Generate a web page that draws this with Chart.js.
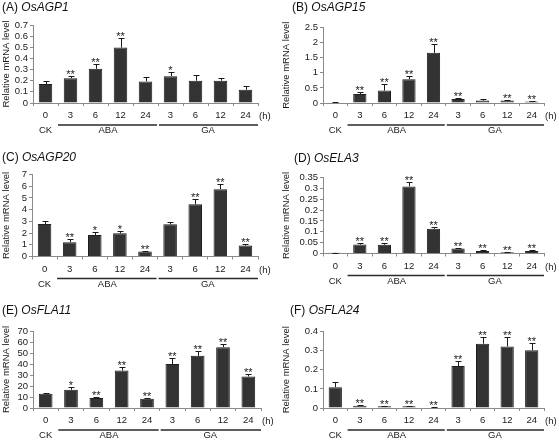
<!DOCTYPE html>
<html>
<head>
<meta charset="utf-8">
<script src="https://cdn.jsdelivr.net/npm/chart.js@4.4.1/dist/chart.umd.min.js"></script>
<style>
  body { margin: 0; background: #fff; width: 559px; height: 440px; position: relative; overflow: hidden;
         font-family: "Liberation Sans", Arial, sans-serif; }
  canvas { position: absolute; }
  .ttl { position: absolute; font-size: 12px; line-height: 14px; color: #111; white-space: nowrap; }
</style>
</head>
<body>
<canvas id="cA" width="280" height="145" style="left:0;top:0"></canvas>
<canvas id="cB" width="279" height="145" style="left:280px;top:0"></canvas>
<canvas id="cC" width="280" height="145" style="left:0;top:145px"></canvas>
<canvas id="cD" width="279" height="145" style="left:280px;top:145px"></canvas>
<canvas id="cE" width="280" height="150" style="left:0;top:290px"></canvas>
<canvas id="cF" width="279" height="150" style="left:280px;top:290px"></canvas>

<div class="ttl" style="left:2px;top:0px">(A) <i>OsAGP1</i></div>
<div class="ttl" style="left:292px;top:0px">(B) <i>OsAGP15</i></div>
<div class="ttl" style="left:2px;top:150px">(C) <i>OsAGP20</i></div>
<div class="ttl" style="left:294px;top:151px">(D) <i>OsELA3</i></div>
<div class="ttl" style="left:2px;top:303px">(E) <i>OsFLA11</i></div>
<div class="ttl" style="left:290px;top:303px">(F) <i>OsFLA24</i></div>

<script>
// x categories: CK, then ABA 3-24 h, then GA 3-24 h
const timeLabels = ['0', '3', '6', '12', '24', '3', '6', '12', '24'];
const groupNames = ['CK', 'ABA', 'GA'];
const yTitle = 'Relative mRNA level';

// (A) OsAGP1
const agp1Mean = [0.17, 0.223, 0.307, 0.497, 0.194, 0.241, 0.2, 0.2, 0.119];
const agp1Err  = [0.028, 0.021, 0.041, 0.083, 0.038, 0.036, 0.053, 0.023, 0.036];
const agp1Sig  = ['', '**', '**', '**', '', '*', '', '', ''];
const agp1Ticks = [0, 0.7, 0.1];

// (B) OsAGP15
const agp15Mean = [0.02, 0.3, 0.41, 0.79, 1.66, 0.13, 0.08, 0.08, 0.05];
const agp15Err  = [0.01, 0.06, 0.22, 0.12, 0.3, 0.05, 0.04, 0.01, 0.015];
const agp15Sig  = ['', '**', '**', '**', '**', '**', '', '**', '**'];
const agp15Ticks = [0, 2.5, 0.5];

// (C) OsAGP20
const agp20Mean = [2.78, 1.22, 1.84, 1.98, 0.42, 2.75, 4.45, 5.75, 0.93];
const agp20Err  = [0.25, 0.25, 0.28, 0.2, 0.06, 0.17, 0.45, 0.43, 0.17];
const agp20Sig  = ['', '**', '*', '*', '**', '', '**', '**', '**'];
const agp20Ticks = [0, 7, 1];

// (D) OsELA3
const ela3Mean = [0.003, 0.041, 0.04, 0.309, 0.114, 0.023, 0.011, 0.006, 0.011];
const ela3Err  = [0.001, 0.006, 0.007, 0.021, 0.006, 0.004, 0.003, 0.002, 0.004];
const ela3Sig  = ['', '**', '**', '**', '**', '**', '**', '**', '**'];
const ela3Ticks = [0, 0.35, 0.05];

// (E) OsFLA11
const fla11Mean = [13, 16.6, 9, 34, 8.5, 39.9, 47.4, 55.3, 28.7];
const fla11Err  = [0.6, 2.4, 0.7, 3, 0.9, 5.7, 4.3, 2.7, 2.4];
const fla11Sig  = ['', '*', '**', '**', '**', '**', '**', '**', '**'];
const fla11Ticks = [0, 70, 10];

// (F) OsFLA24
const fla24Mean = [0.109, 0.012, 0.009, 0.009, 0.003, 0.219, 0.336, 0.322, 0.302];
const fla24Err  = [0.025, 0.004, 0.001, 0.003, 0.001, 0.026, 0.033, 0.047, 0.038];
const fla24Sig  = ['', '**', '**', '**', '**', '**', '**', '**', '**'];
const fla24Ticks = [0, 0.4, 0.1];

const ink = '#1a1a1a';
const axisGray = '#8a8a8a';
const font = '"Liberation Sans", Arial, sans-serif';

// error bars + stars, group brackets, "(h)" and the y title
const extrasPlugin = {
  id: 'extras',
  afterDatasetsDraw(chart, args, opts) {
    const ctx = chart.ctx;
    const meta = chart.getDatasetMeta(0);
    const y = chart.scales.y;
    const xs = chart.scales.x;
    const ca = chart.chartArea;
    const vals = chart.data.datasets[0].data;

    ctx.save();
    ctx.strokeStyle = ink;
    ctx.lineWidth = 1;
    ctx.fillStyle = ink;
    ctx.font = '11px ' + font;
    ctx.textAlign = 'center';
    ctx.textBaseline = 'alphabetic';
    meta.data.forEach((bar, i) => {
      const x = Math.round(bar.x) + 0.5;
      const y0 = y.getPixelForValue(vals[i]);
      const y1 = Math.round(y.getPixelForValue(vals[i] + opts.err[i])) + 0.5;
      ctx.beginPath();
      ctx.moveTo(x, y0);
      ctx.lineTo(x, y1);
      ctx.moveTo(x - 3, y1);
      ctx.lineTo(x + 3, y1);
      ctx.stroke();
      if (opts.sig[i]) ctx.fillText(opts.sig[i], bar.x, y1 + 1.5);
    });
    ctx.restore();

    const c = i => xs.getPixelForTick(i);
    const edge = i => (c(i) + c(i + 1)) / 2;
    const yb = ca.bottom + 22;
    ctx.save();
    ctx.strokeStyle = '#2a2a2a';
    ctx.lineWidth = 1.5;
    ctx.beginPath();
    ctx.moveTo(edge(0), yb);
    ctx.lineTo(edge(4) - 1, yb);
    ctx.moveTo(edge(4) + 1, yb);
    ctx.lineTo(ca.right, yb);
    ctx.stroke();

    ctx.fillStyle = ink;
    ctx.font = '9.5px ' + font;
    ctx.textBaseline = 'middle';
    ctx.textAlign = 'center';
    ctx.fillText(groupNames[0], c(0), yb + 5.5);
    ctx.fillText(groupNames[1], (c(1) + c(4)) / 2, yb + 5.5);
    ctx.fillText(groupNames[2], (c(5) + c(8)) / 2, yb + 5.5);
    ctx.textAlign = 'left';
    ctx.fillText('(h)', ca.right + 1, ca.bottom + 13.5);
    ctx.restore();

    ctx.save();
    ctx.fillStyle = ink;
    ctx.font = '9.5px ' + font;
    ctx.textAlign = 'center';
    ctx.textBaseline = 'middle';
    ctx.translate(opts.titleX, (ca.top + ca.bottom) / 2);
    ctx.rotate(-Math.PI / 2);
    ctx.fillText(yTitle, 0, 0);
    ctx.restore();
  }
};

function makePanel(id, mean, err, sig, ticks, box) {
  const canvas = document.getElementById(id);
  const W = canvas.width, H = canvas.height;
  return new Chart(canvas, {
    type: 'bar',
    data: {
      labels: timeLabels,
      datasets: [{
        data: mean,
        backgroundColor: '#333333',
        borderColor: '#1e1e1e',
        borderWidth: 1,
        barPercentage: 0.54,
        categoryPercentage: 1
      }]
    },
    options: {
      responsive: false,
      animation: false,
      devicePixelRatio: 1,
      layout: { padding: { left: 0, top: box.top, right: W - box.right, bottom: 0 } },
      plugins: {
        legend: { display: false },
        tooltip: { enabled: false },
        extras: { err: err, sig: sig, titleX: box.titleX }
      },
      scales: {
        x: {
          offset: true,
          grid: { offset: true, drawOnChartArea: false, color: axisGray, tickLength: 3 },
          border: { color: axisGray },
          ticks: { color: ink, font: { size: 9.5, family: font }, padding: 4, maxRotation: 0, autoSkip: false },
          afterFit: s => { s.height = H - box.bottom; }
        },
        y: {
          min: ticks[0],
          max: ticks[1],
          ticks: {
            stepSize: ticks[2],
            autoSkip: false,
            color: ink,
            font: { size: 9.5, family: font },
            padding: 2,
            callback: v => String(+v.toFixed(3))
          },
          grid: { drawOnChartArea: false, color: axisGray, tickLength: 3 },
          border: { color: axisGray },
          afterFit: s => { s.width = box.left; }
        }
      }
    },
    plugins: [extrasPlugin]
  });
}

const charts = [
  makePanel('cA', agp1Mean, agp1Err, agp1Sig, agp1Ticks, { left: 33, right: 258, top: 25, bottom: 103, titleX: 6 }),
  makePanel('cB', agp15Mean, agp15Err, agp15Sig, agp15Ticks, { left: 43, right: 264, top: 27.5, bottom: 103, titleX: 6 }),
  makePanel('cC', agp20Mean, agp20Err, agp20Sig, agp20Ticks, { left: 32, right: 258, top: 29.5, bottom: 111.5, titleX: 6 }),
  makePanel('cD', ela3Mean, ela3Err, ela3Sig, ela3Ticks, { left: 43, right: 264, top: 32.5, bottom: 108.5, titleX: 6 }),
  makePanel('cE', fla11Mean, fla11Err, fla11Sig, fla11Ticks, { left: 33, right: 261, top: 41, bottom: 118, titleX: 6 }),
  makePanel('cF', fla24Mean, fla24Err, fla24Sig, fla24Ticks, { left: 43, right: 264, top: 41.5, bottom: 118, titleX: 6 })
];
// redraw once everything (fonts included) has settled
if (document.fonts && document.fonts.ready) {
  document.fonts.ready.then(() => charts.forEach(ch => ch.draw()));
}
</script>
</body>
</html>
